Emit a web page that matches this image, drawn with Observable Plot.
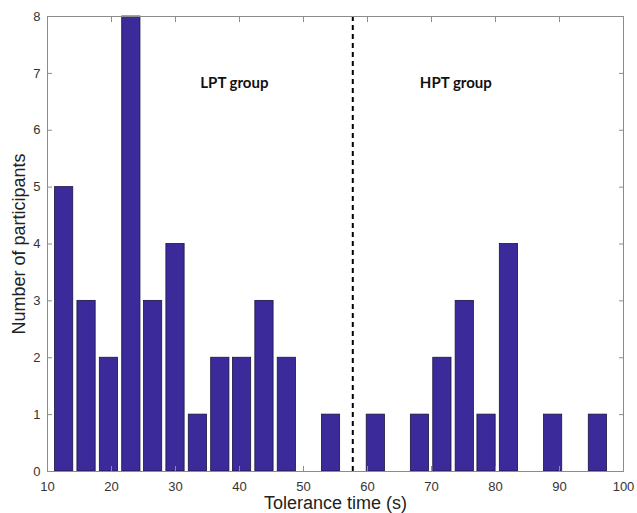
<!DOCTYPE html>
<html>
<head>
<meta charset="utf-8">
<script src="https://cdn.jsdelivr.net/npm/d3@7"></script>
<script src="https://cdn.jsdelivr.net/npm/@observablehq/plot@0.6"></script>
<style>
  body { margin: 0; background: #fff; }
  svg { font-family: "Liberation Sans", Arial, sans-serif; }
  g[aria-label="x-axis label"] text, g[aria-label="y-axis label"] text { font-size: 18px; fill: #222; }
</style>
</head>
<body>
<div id="chart"></div>
<script>
// bin centres (s) and counts
const binCenters = [12.6, 16.1, 19.6, 23.1, 26.5, 30.0, 33.5, 37.0, 40.4, 43.9, 47.4, 50.8, 54.3, 57.8, 61.3, 64.7, 68.2, 71.7, 75.2, 78.6, 82.1, 85.6, 89.0, 92.5, 96.0];
const counts     = [5, 3, 2, 8, 3, 4, 1, 2, 2, 3, 2, 0, 1, 0, 1, 0, 1, 2, 3, 1, 4, 0, 1, 0, 1];
const barWidth = 2.85;
const cutoff = [57.7];
const groupLabels = ["LPT group", "HPT group"];
const groupX = [39.2, 73.8];
const groupY = [6.82, 6.82];
const xTicks = [10, 20, 30, 40, 50, 60, 70, 80, 90, 100];
const yTicks = [0, 1, 2, 3, 4, 5, 6, 7, 8];

const bars = binCenters.map((c, i) => ({x1: c - barWidth / 2, x2: c + barWidth / 2, count: counts[i]})).filter(d => d.count > 0);
const groups = groupLabels.map((t, i) => ({t, x: groupX[i], y: groupY[i]}));

const axisColor = "#8c8c8c";
const plot = Plot.plot({
  width: 637,
  height: 513,
  marginLeft: 47,
  marginRight: 14,
  marginTop: 16,
  marginBottom: 42,
  x: {domain: [10, 100]},
  y: {domain: [0, 8]},
  style: {fontSize: "13px", color: "#333", background: "white"},
  marks: [
    Plot.rectY(bars, {x1: "x1", x2: "x2", y: "count", fill: "#3a2a9a", stroke: "#1c1440", strokeWidth: 0.8}),
    Plot.ruleX(cutoff, {stroke: "black", strokeWidth: 2, strokeDasharray: "5,4"}),
    Plot.text(groups, {x: "x", y: "y", text: "t", fontWeight: "bold", fontSize: 15, fontFamily: "Lato, 'Open Sans', sans-serif", fill: "#111"}),
    Plot.frame({stroke: axisColor}),
    // labels
    Plot.axisX(xTicks, {anchor: "bottom", tickSize: 0, tickPadding: 10, tickFormat: d3.format("d"), label: "Tolerance time (s)", labelArrow: "none", labelAnchor: "center", labelOffset: 37, fill: "#333"}),
    Plot.axisY(yTicks, {anchor: "left", tickSize: 0, tickPadding: 7, tickFormat: d3.format("d"), label: "Number of participants", labelArrow: "none", labelAnchor: "center", labelOffset: 35, fill: "#333"}),
    // inward ticks
    Plot.axisX(xTicks, {anchor: "bottom", tickSize: 5, dy: -5, tickFormat: () => "", label: null, stroke: axisColor}),
    Plot.axisX(xTicks, {anchor: "top", tickSize: 5, dy: 5, tickFormat: () => "", label: null, stroke: axisColor}),
    Plot.axisY(yTicks, {anchor: "left", tickSize: 5, dx: 5, tickFormat: () => "", label: null, stroke: axisColor}),
    Plot.axisY(yTicks, {anchor: "right", tickSize: 5, dx: -5, tickFormat: () => "", label: null, stroke: axisColor})
  ]
});
document.getElementById("chart").appendChild(plot);
</script>
</body>
</html>
